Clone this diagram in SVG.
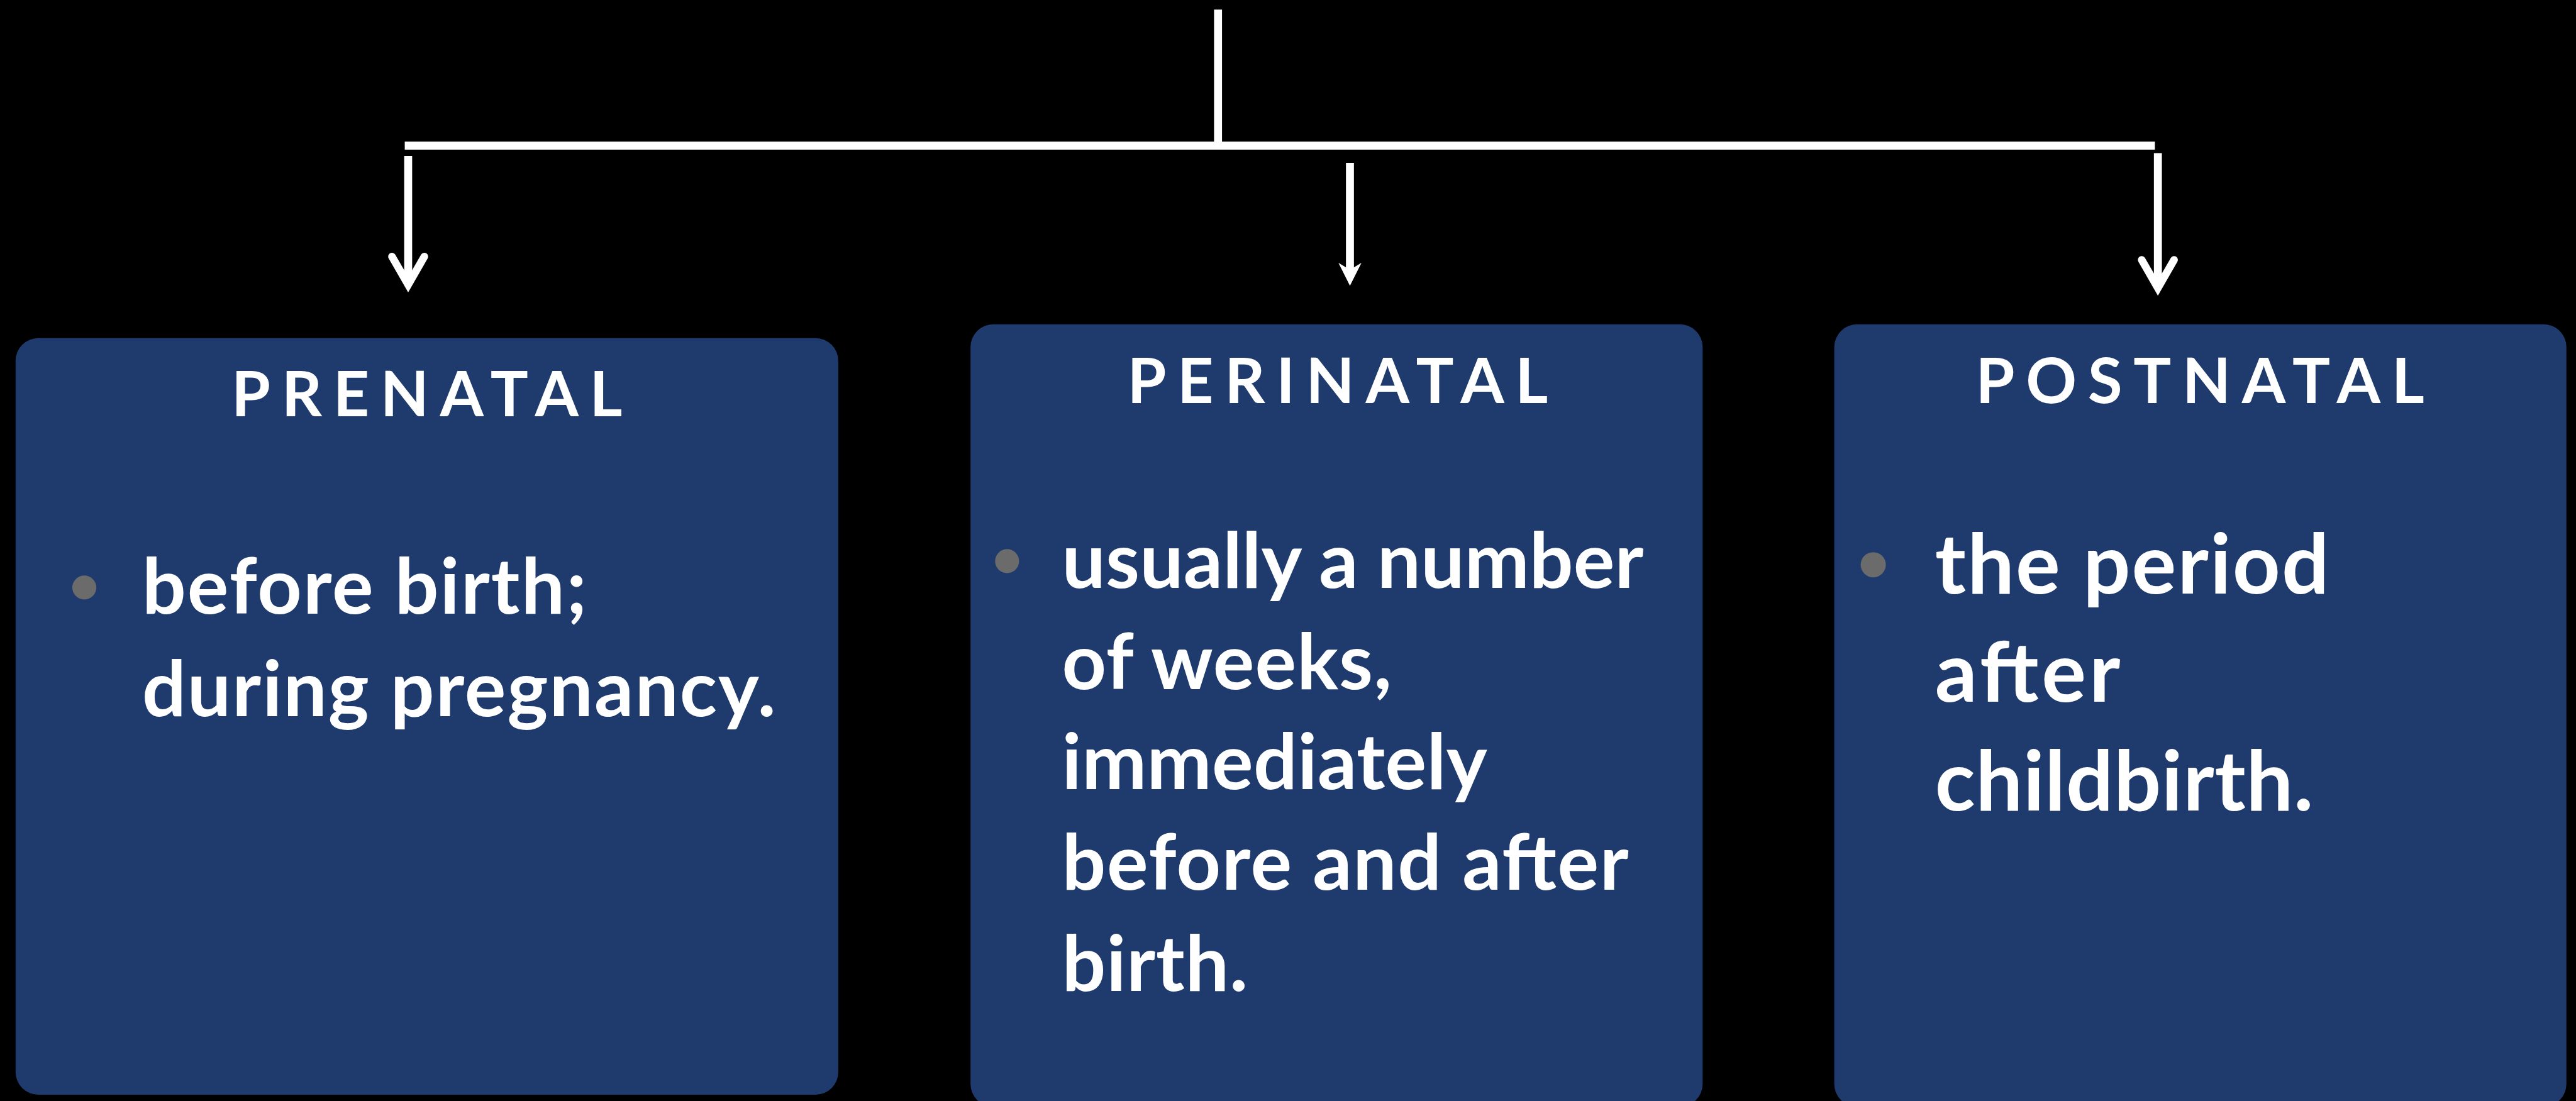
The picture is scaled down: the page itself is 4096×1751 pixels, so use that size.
<svg xmlns="http://www.w3.org/2000/svg" width="4096" height="1751" viewBox="0 0 4096 1751">
  <style>
    .box { fill: #1F3B6D; }
    .title { font-family: Lato, "Liberation Sans", sans-serif; font-weight: 700; font-size: 105px; fill: #FFFFFF; letter-spacing: 18.5px; }
    .body { font-family: Lato, "Liberation Sans", sans-serif; font-weight: 700; font-size: 129px; fill: #FFFFFF; }
    .body3 { font-size: 139px; }
    .bullet { fill: #6B6B6B; }
    .conn { stroke: #FFFFFF; stroke-width: 13.3; fill: none; stroke-linecap: butt; }
  </style>
  <defs>
    <marker id="openArrow" markerUnits="userSpaceOnUse" viewBox="-70 -45 90 90" markerWidth="90" markerHeight="90" refX="0" refY="0" orient="auto" overflow="visible">
      <path d="M-47,-27 L0,0 L-47,27" fill="none" stroke="#FFFFFF" stroke-width="12.7" stroke-linecap="round" stroke-linejoin="miter"/>
    </marker>
    <marker id="stealthArrow" markerUnits="userSpaceOnUse" viewBox="-60 -30 90 60" markerWidth="90" markerHeight="60" refX="-21.7" refY="0" orient="auto" overflow="visible">
      <path d="M0,0 L-38.4,-19.2 L-26.7,0 L-38.4,19.2 Z" fill="#FFFFFF"/>
    </marker>
  </defs>
  <rect x="0" y="0" width="4096" height="1751" fill="#000000"/>
  <g transform="scale(0.95345)">
    <g id="connectors">
      <line class="conn" x1="2031.3" y1="16" x2="2031.3" y2="243"/>
      <line class="conn" x1="675" y1="243" x2="3593.7" y2="243"/>
      <line class="conn" x1="680.7" y1="260" x2="680.7" y2="475" marker-end="url(#openArrow)"/>
      <line class="conn" x1="2251.3" y1="271.7" x2="2251.3" y2="455" marker-end="url(#stealthArrow)"/>
      <line class="conn" x1="3598.7" y1="255.3" x2="3598.7" y2="480.5" marker-end="url(#openArrow)"/>
    </g>
    <g id="node-prenatal">
      <rect class="box" x="26" y="564" width="1372" height="1262" rx="38" ry="38"/>
      <text class="title" x="386" y="694">PRENATAL</text>
      <circle class="bullet" cx="140.6" cy="980" r="20"/>
      <text class="body" x="237" y="1024" textLength="742" lengthAdjust="spacing">before birth;</text>
      <text class="body" x="237" y="1195" textLength="1057" lengthAdjust="spacing">during pregnancy.</text>
    </g>
    <g id="node-perinatal">
      <rect class="box" x="1618.5" y="541" width="1221" height="1305" rx="38" ry="38"/>
      <text class="title" x="1880" y="672">PERINATAL</text>
      <circle class="bullet" cx="1679.5" cy="936" r="20"/>
      <text class="body" x="1771" y="981" textLength="970" lengthAdjust="spacing">usually a number</text>
      <text class="body" x="1771" y="1149" textLength="550" lengthAdjust="spacing">of weeks,</text>
      <text class="body" x="1771" y="1316" textLength="709" lengthAdjust="spacing">immediately</text>
      <text class="body" x="1771" y="1484" textLength="945" lengthAdjust="spacing">before and after</text>
      <text class="body" x="1771" y="1653" textLength="310" lengthAdjust="spacing">birth.</text>
    </g>
    <g id="node-postnatal">
      <rect class="box" x="3059" y="541" width="1221" height="1305" rx="38" ry="38"/>
      <text class="title" x="3295" y="672">POSTNATAL</text>
      <circle class="bullet" cx="3124" cy="942" r="21"/>
      <text class="body body3" x="3227" y="990" textLength="657" lengthAdjust="spacing">the period</text>
      <text class="body body3" x="3227" y="1170" textLength="309" lengthAdjust="spacing">after</text>
      <text class="body body3" x="3227" y="1352" textLength="631" lengthAdjust="spacing">childbirth.</text>
    </g>
  </g>
</svg>
